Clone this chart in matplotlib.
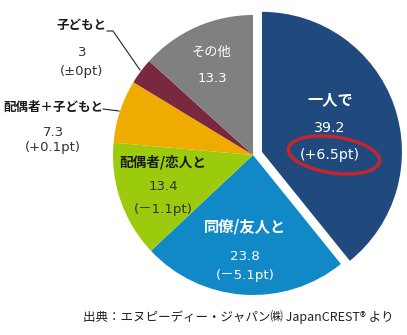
import matplotlib.pyplot as plt
from matplotlib.patches import Ellipse

plt.rcParams['font.family'] = ['Noto Sans CJK JP', 'DejaVu Sans']

categories = ['一人で', '同僚/友人と', '配偶者/恋人と', '配偶者＋子どもと', '子どもと', 'その他']
shares = [39.2, 23.8, 13.4, 7.3, 3.0, 13.3]
share_labels = ['39.2', '23.8', '13.4', '7.3', '3', '13.3']
changes = ['(+6.5pt)', '(－5.1pt)', '(－1.1pt)', '(+0.1pt)', '(±0pt)', '']
colors = ['#204A7E', '#1089C6', '#9BCB0C', '#F0AB00', '#7A2840', '#808080']

W, H = 407, 335


def py(y):
    # pixel row (from top) -> data y
    return H - y


fig = plt.figure(figsize=(W / 100, H / 100), dpi=100)
ax = fig.add_axes([0, 0, 1, 1])

ax.pie(shares, colors=colors, startangle=90, counterclock=False,
       center=(253, py(155)), radius=140, explode=[9.5, 0, 0, 0, 0, 0],
       wedgeprops=dict(linewidth=0))

ax.set_xlim(0, W)
ax.set_ylim(0, H)
ax.set_aspect('equal')
ax.axis('off')

num_font = ['DejaVu Sans', 'Noto Sans CJK JP']

# (x, name_y, value_y, change_y, text color, name color, name size, number size)
label_pos = [
    (330, 99, 128, 155, 'white', 'white', 11, 10.2),
    (245, 227, 256, 276, 'white', 'white', 11, 9.6),
    (163, 162, 187, 210, '#333333', '#1a1a1a', 9.8, 9.6),
    (53, 107, 133, 148, '#333333', '#1a1a1a', 9, 9.5),
    (82, 26, 52, 72, '#333333', '#1a1a1a', 9, 9.5),
    (212, 52, 78, None, 'white', 'white', 9.5, 9.5),
]

for i, (x, ny, vy, cy, tc, nc, ns, vs) in enumerate(label_pos):
    ax.text(x, py(ny), categories[i], ha='center', va='center', fontsize=ns,
            fontweight='bold' if i < 5 else 'normal', color=nc)
    ax.text(x, py(vy), share_labels[i], ha='center', va='center', fontsize=vs,
            family=num_font, color=tc)
    if cy is not None:
        ax.text(x, py(cy), changes[i], ha='center', va='center', fontsize=vs,
                family=num_font, color=tc)

# leader lines
ax.plot([103, 119], [py(109), py(111)], color='#222222', lw=0.8)
ax.plot([107, 113, 140], [py(31), py(31), py(70)], color='#222222', lw=0.8)

# red highlight ellipse
ax.add_patch(Ellipse((334, py(155)), 92, 36, angle=-8, fill=False,
                     edgecolor='#C4262E', lw=2.5))

ax.text(238, py(317), '出典：エヌピーディー・ジャパン㈱ JapanCREST® より',
        ha='center', va='center', fontsize=9, color='#222222')

fig.savefig('out.png', dpi=100)
